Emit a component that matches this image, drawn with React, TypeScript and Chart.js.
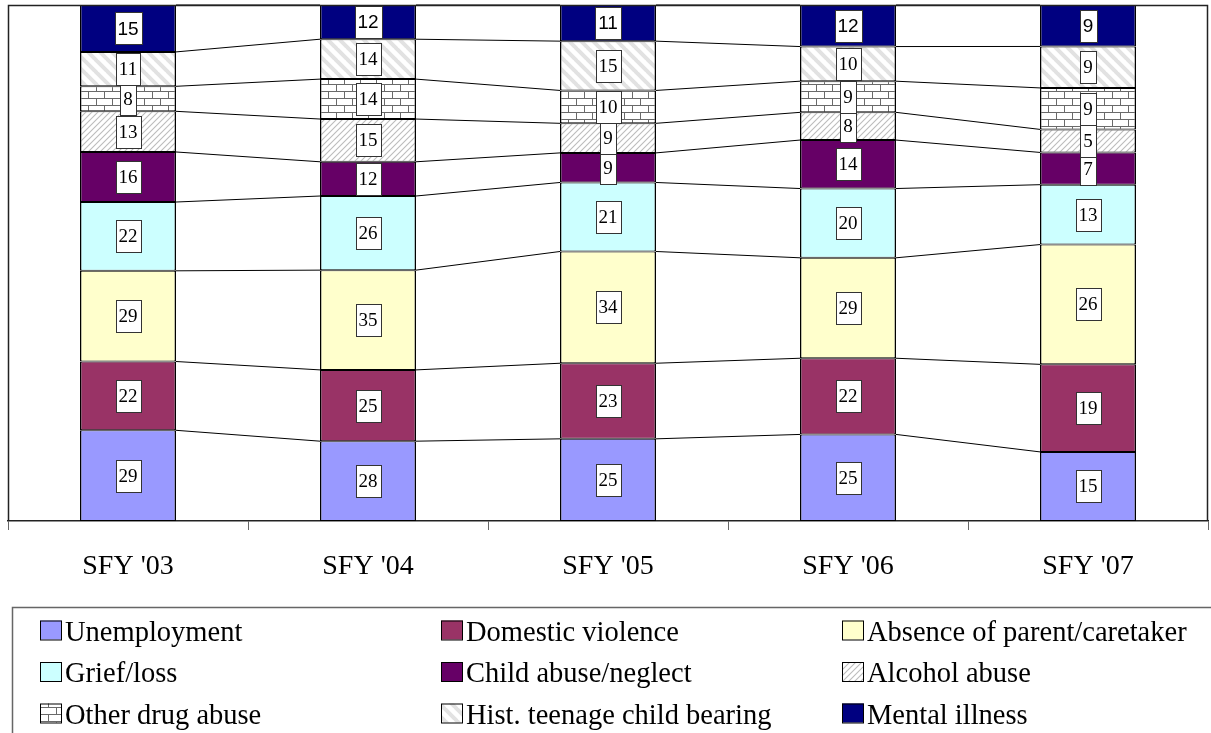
import React, { useEffect, useRef } from 'react';
import { Chart, registerables } from 'chart.js';

Chart.register(...registerables);

const categories = ["SFY '03", "SFY '04", "SFY '05", "SFY '06", "SFY '07"];
const seriesNames = [
  'Unemployment',
  'Domestic violence',
  'Absence of parent/caretaker',
  'Grief/loss',
  'Child abuse/neglect',
  'Alcohol abuse',
  'Other drug abuse',
  'Hist. teenage child bearing',
  'Mental illness',
];
const unemployment = [29, 28, 25, 25, 15];
const domesticViolence = [22, 25, 23, 22, 19];
const absenceOfParent = [29, 35, 34, 29, 26];
const griefLoss = [22, 26, 21, 20, 13];
const childAbuse = [16, 12, 9, 14, 7];
const alcoholAbuse = [13, 15, 9, 8, 5];
const otherDrugAbuse = [8, 14, 10, 9, 9];
const teenageChildBearing = [11, 14, 15, 10, 9];
const mentalIllness = [15, 12, 11, 12, 9];

const seriesValues = [
  unemployment,
  domesticViolence,
  absenceOfParent,
  griefLoss,
  childAbuse,
  alcoholAbuse,
  otherDrugAbuse,
  teenageChildBearing,
  mentalIllness,
];

function makePattern(kind: string): CanvasPattern | string {
  const c = document.createElement('canvas');
  const ctx = c.getContext('2d');
  if (!ctx) return '#fff';
  if (kind === 'alcohol') {
    c.width = 6; c.height = 6;
    ctx.fillStyle = '#fff'; ctx.fillRect(0, 0, 6, 6);
    ctx.strokeStyle = '#bcbcbc'; ctx.lineWidth = 1.1;
    ctx.beginPath();
    for (const k of [-6, 0, 6]) {
      ctx.moveTo(k - 1, 7); ctx.lineTo(k + 7, -1);
    }
    ctx.stroke();
  } else if (kind === 'teen') {
    c.width = 12; c.height = 12;
    ctx.fillStyle = '#fff'; ctx.fillRect(0, 0, 12, 12);
    ctx.strokeStyle = '#e2e2e2'; ctx.lineWidth = 4;
    ctx.beginPath();
    for (const k of [-12, 0, 12]) {
      ctx.moveTo(k - 1, -1); ctx.lineTo(k + 13, 13);
    }
    ctx.stroke();
  } else if (kind === 'brick') {
    c.width = 16; c.height = 14;
    ctx.fillStyle = '#fff'; ctx.fillRect(0, 0, 16, 14);
    ctx.strokeStyle = '#6a6a6a'; ctx.lineWidth = 1;
    ctx.beginPath();
    ctx.moveTo(0, 0.5); ctx.lineTo(16, 0.5);
    ctx.moveTo(0, 7.5); ctx.lineTo(16, 7.5);
    ctx.moveTo(0.5, 0); ctx.lineTo(0.5, 7);
    ctx.moveTo(8.5, 7); ctx.lineTo(8.5, 14);
    ctx.stroke();
  }
  return ctx.createPattern(c, 'repeat') || '#fff';
}

export default function App() {
  const ref = useRef<HTMLCanvasElement | null>(null);

  useEffect(() => {
    const canvas = ref.current;
    if (!canvas) return;

    const fills: (string | CanvasPattern)[] = [
      '#9999FF',
      '#993366',
      '#FFFFCC',
      '#CCFFFF',
      '#660066',
      makePattern('alcohol'),
      makePattern('brick'),
      makePattern('teen'),
      '#000080',
    ];

    const totals = categories.map((_, i) =>
      seriesValues.reduce((s, arr) => s + arr[i], 0)
    );

    const datasets = seriesNames.map((name, si) => ({
      label: name,
      data: seriesValues[si].map((v, i) => (v / totals[i]) * 100),
      backgroundColor: fills[si] as any,
      borderColor: '#000',
      borderWidth: { left: 1.5, right: 1.5, top: 1, bottom: 1 },
      borderSkipped: false as any,
      categoryPercentage: 0.4,
      barPercentage: 1.0,
    }));

    const AXIS_H = 86;

    const customPlugin = {
      id: 'customDraw',
      afterDatasetsDraw(chart: any) {
        const ctx: CanvasRenderingContext2D = chart.ctx;
        const { left, right, top, bottom } = chart.chartArea;
        ctx.save();
        // series lines
        ctx.strokeStyle = '#000';
        ctx.lineWidth = 1;
        chart.data.datasets.forEach((_: any, di: number) => {
          const meta = chart.getDatasetMeta(di);
          for (let i = 0; i < meta.data.length - 1; i++) {
            const a: any = meta.data[i];
            const b: any = meta.data[i + 1];
            ctx.beginPath();
            ctx.moveTo(a.x + a.width / 2, a.y);
            ctx.lineTo(b.x - b.width / 2, b.y);
            ctx.stroke();
          }
        });
        // data labels
        chart.data.datasets.forEach((_: any, di: number) => {
          const meta = chart.getDatasetMeta(di);
          const isTop = di === seriesNames.length - 1;
          ctx.font = isTop ? '19px "Liberation Sans", Arial, sans-serif' : '19px "Liberation Serif", "Times New Roman", serif';
          meta.data.forEach((el: any, i: number) => {
            const txt = String(seriesValues[di][i]);
            const cx = el.x;
            const cy = (el.y + el.base) / 2;
            const w = Math.round(ctx.measureText(txt).width + 6);
            const h = 32;
            const bx = Math.round(cx - w / 2) + 0.5;
            const by = Math.round(cy - h / 2) + 0.5;
            ctx.fillStyle = '#fff';
            ctx.fillRect(bx, by, w, h);
            ctx.strokeStyle = '#333';
            ctx.lineWidth = 1;
            ctx.strokeRect(bx, by, w, h);
            ctx.fillStyle = '#000';
            ctx.textAlign = 'center';
            ctx.textBaseline = 'middle';
            ctx.fillText(txt, cx, cy + 1);
          });
        });
        // plot border
        ctx.strokeStyle = '#222';
        ctx.lineWidth = 1.5;
        ctx.beginPath();
        ctx.moveTo(left + 0.5, bottom);
        ctx.lineTo(left + 0.5, top + 0.5);
        ctx.lineTo(right - 0.5, top + 0.5);
        ctx.lineTo(right - 0.5, bottom);
        ctx.stroke();
        ctx.restore();
      },
      afterDraw(chart: any) {
        const ctx: CanvasRenderingContext2D = chart.ctx;
        const legTop = chart.chartArea.bottom + AXIS_H + 0.5;
        const W = chart.width;
        const H = chart.height;
        ctx.save();
        ctx.strokeStyle = '#666';
        ctx.lineWidth = 1.5;
        ctx.beginPath();
        ctx.moveTo(12.5, H);
        ctx.lineTo(12.5, legTop);
        ctx.lineTo(W, legTop);
        ctx.stroke();
        const colX = [40, 441, 842];
        const baseY = [legTop + 33, legTop + 74.5, legTop + 116];
        ctx.font = '28.5px "Liberation Serif", "Times New Roman", serif';
        ctx.textAlign = 'left';
        ctx.textBaseline = 'alphabetic';
        seriesNames.forEach((name, i) => {
          const col = i % 3;
          const row = Math.floor(i / 3);
          const x = colX[col];
          const y = baseY[row];
          ctx.fillStyle = fills[i] as any;
          ctx.fillRect(x, y - 20, 22, 19);
          ctx.strokeStyle = '#000';
          ctx.lineWidth = 1;
          ctx.strokeRect(x + 0.5, y - 19.5, 21, 19);
          ctx.fillStyle = '#000';
          ctx.fillText(name, x + 25, y);
        });
        ctx.restore();
      },
    };

    const chart = new Chart(canvas, {
      type: 'bar',
      data: { labels: categories, datasets: datasets as any },
      options: {
        responsive: false,
        animation: false,
        events: [],
        layout: { padding: { top: 5, left: 8, right: 3, bottom: 733 - 607 } },
        plugins: {
          legend: { display: false },
          tooltip: { enabled: false },
        },
        scales: {
          x: {
            stacked: true,
            offset: true,
            grid: {
              display: true,
              offset: true,
              drawOnChartArea: false,
              drawTicks: true,
              tickLength: 9,
              color: '#666',
              lineWidth: 1,
            },
            border: { display: true, color: '#222', width: 1.5 },
            ticks: {
              color: '#000',
              font: { family: '"Liberation Serif", "Times New Roman", serif', size: 28 },
              padding: 20,
              maxRotation: 0,
              autoSkip: false,
            },
            afterFit: (scale: any) => {
              scale.height = AXIS_H;
            },
          },
          y: {
            stacked: true,
            display: false,
            min: 0,
            max: 100,
          },
        },
      },
      plugins: [customPlugin],
    });

    return () => chart.destroy();
  }, []);

  return (
    <div style={{ position: 'absolute', left: 0, top: 0, width: 1211, height: 733, background: '#fff' }}>
      <canvas ref={ref} width={1211} height={733} style={{ display: 'block' }} />
    </div>
  );
}
